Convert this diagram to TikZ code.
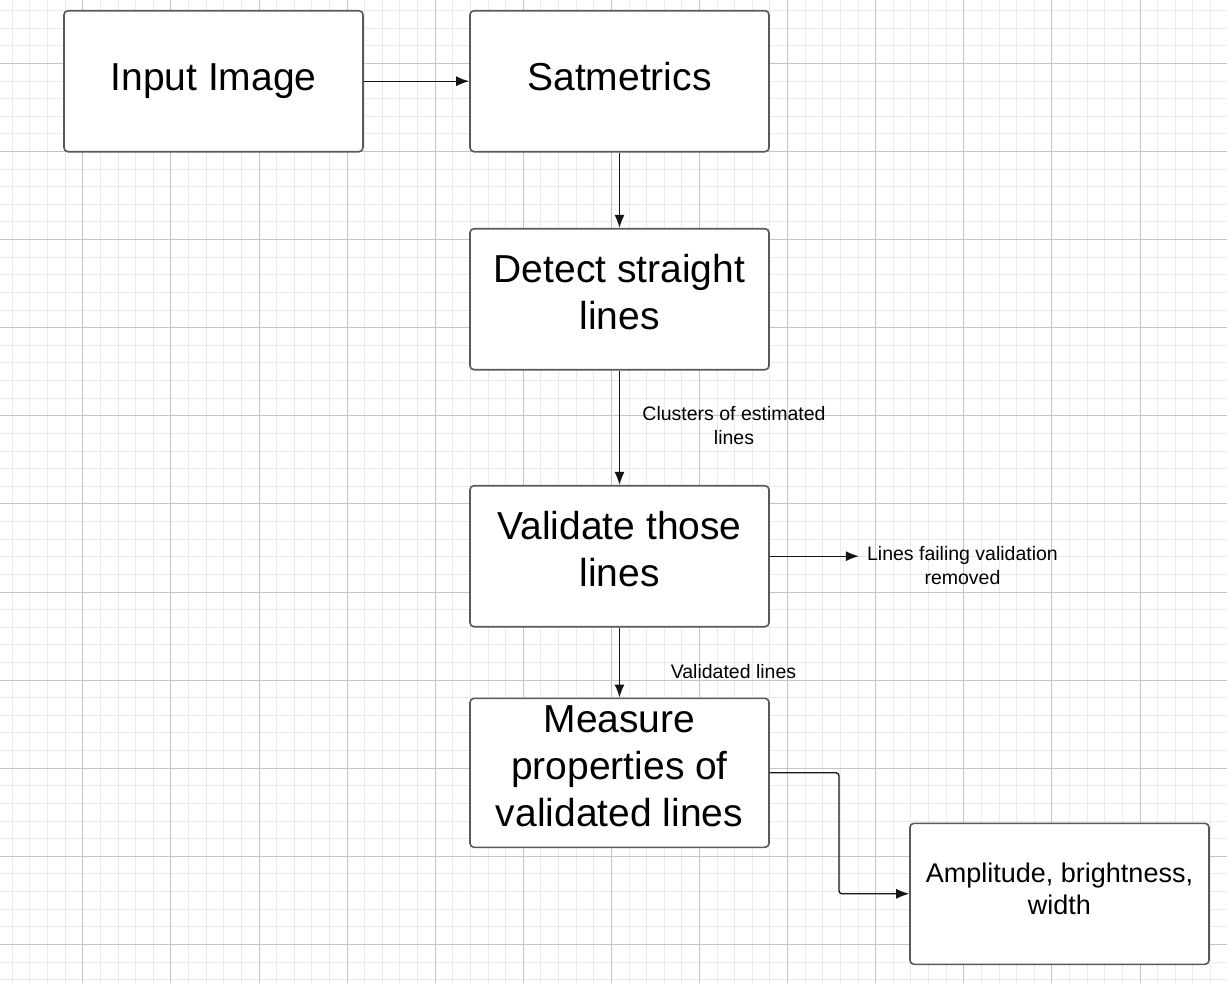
\documentclass[tikz,border=0pt]{standalone}
\usepackage{fontspec}
\setmainfont{Liberation Sans}
\usetikzlibrary{arrows.meta}
\definecolor{boxline}{RGB}{85,90,96}
\definecolor{minorgrid}{RGB}{234,234,234}
\definecolor{majorgrid}{RGB}{196,196,196}
\definecolor{arrowcol}{RGB}{20,20,20}
\tikzset{
  stepbox/.style={draw=boxline, line width=1.6pt, fill=white, rounded corners=4pt,
    minimum width=299pt, minimum height=141pt, inner sep=0pt, align=center,
    text=black, font=\fontsize{39}{47}\selectfont,
    execute at begin node=\strut, execute at end node=\strut},
  smallbox/.style={draw=boxline, line width=1.6pt, fill=white, rounded corners=4pt,
    minimum width=299pt, minimum height=141pt, inner sep=0pt, align=center,
    text=black, font=\fontsize{27}{32}\selectfont,
    execute at begin node=\strut, execute at end node=\strut},
  lbl/.style={align=center, text=black, inner sep=4pt, font=\fontsize{19.5}{23.5}\selectfont},
  conn/.style={draw=arrowcol, line width=1.3pt, -{Latex[length=13pt,width=10pt]}},
  minorln/.style={draw=minorgrid, line width=1pt},
  majorln/.style={draw=majorgrid, line width=1pt}
}
\begin{document}
\begin{tikzpicture}[x=1pt,y=-1pt]
\fill[white] (0,0) rectangle (1227,983);
\useasboundingbox (0,0) rectangle (1227,983);
% grid
\foreach \i in {-4,...,65} {
  \pgfmathsetmacro\xx{82.8+17.62*\i}
  \draw[minorln] (\xx,0) -- (\xx,983);
}
\foreach \i in {-3,...,52} {
  \pgfmathsetmacro\yy{63.4+17.62*\i}
  \draw[minorln] (0,\yy) -- (1227,\yy);
}
\foreach \i in {0,...,13} {
  \pgfmathsetmacro\xx{82.8+88.1*\i}
  \draw[majorln] (\xx,0) -- (\xx,983);
}
\foreach \i in {0,...,10} {
  \pgfmathsetmacro\yy{63.4+88.1*\i}
  \draw[majorln] (0,\yy) -- (1227,\yy);
}
% boxes
\node[stepbox] (input) at (213.5,81.2) {Input Image};
\node[stepbox] (sat) at (619.5,81.2) {Satmetrics};
\node[stepbox] (detect) at (619.5,299.2) {Detect straight\\lines};
\node[stepbox] (valid) at (619.5,556.2) {Validate those\\lines};
\node[stepbox, minimum height=149pt] (measure) at (619.5,772.8) {Measure\\properties of\\validated lines};
\node[smallbox] (amp) at (1059.5,893.8) {Amplitude, brightness,\\width};
% labels
\node[lbl] (clusters) at (734,425.5) {Clusters of estimated\\lines};
\node[lbl] (fail) at (962.5,565.5) {Lines failing validation\\removed};
\node[lbl] (validated) at (733.5,672) {Validated lines};
\coordinate (elbow) at (839,0);
% connectors
\draw[conn] (input) -- (sat);
\draw[conn] (sat) -- (detect);
\draw[conn] (detect) -- (valid);
\draw[conn] (valid) -- (measure);
\draw[conn, shorten >=4pt] (valid.east) -- (valid.east -| fail.west);
\draw[conn, rounded corners=3pt] (measure.east) -- (measure.east -| elbow) -- (elbow |- amp.west) -- (amp.west);
\end{tikzpicture}
\end{document}
